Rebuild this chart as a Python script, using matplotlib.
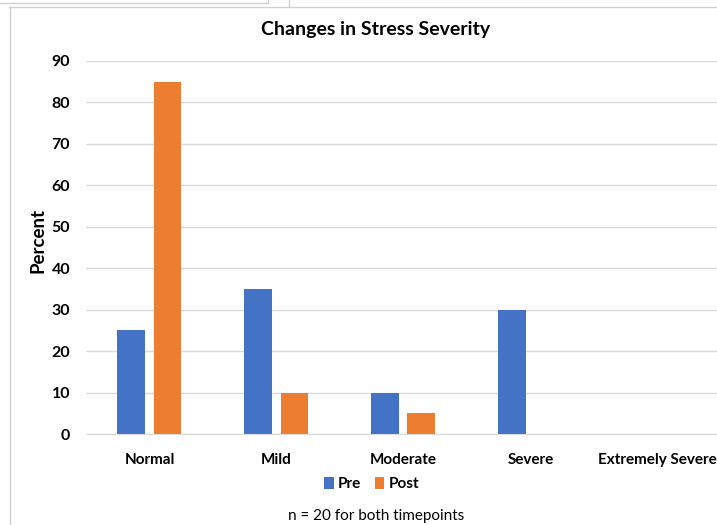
import matplotlib.pyplot as plt
import numpy as np
from matplotlib.lines import Line2D

categories = ["Normal", "Mild", "Moderate", "Severe", "Extremely Severe"]
pre = [25, 35, 10, 30, 0]
post = [85, 10, 5, 0, 0]

W, H = 717, 525
plt.rcParams["font.family"] = ["Lato", "DejaVu Sans"]

fig = plt.figure(figsize=(W / 100, H / 100), dpi=100)
ax = fig.add_axes([86 / W, (H - 434) / H, (717 - 86) / W, (434 - 61) / H])

x = np.arange(len(categories))
bw = 0.22
ax.bar(x - 0.142, pre, bw, color="#4472C4", label="Pre")
ax.bar(x + 0.142, post, bw, color="#ED7D31", label="Post")

ax.set_xlim(-0.5, 4.47)
ax.set_ylim(0, 90)
ax.set_yticks(range(0, 91, 10))
ax.yaxis.grid(True, color="#d9d9d9", linewidth=1)
ax.set_axisbelow(True)
for s in ["top", "right", "left"]:
    ax.spines[s].set_visible(False)
ax.spines["bottom"].set_color("#d9d9d9")
ax.tick_params(axis="y", length=0, labelsize=11.5, pad=11.5)
ax.tick_params(axis="x", length=0, labelsize=11, pad=14)
ax.set_xticks(x)
ax.set_xticklabels(categories, fontweight="bold")
for t in ax.get_yticklabels():
    t.set_fontweight("bold")

fig.text(38 / W, 1 - 240 / H, "Percent", rotation=90, ha="center", va="center",
         fontsize=13.5, fontweight="bold")
fig.text(376 / W, 1 - 30 / H, "Changes in Stress Severity", ha="center", va="center",
         fontsize=14, fontweight="bold")
fig.text(376 / W, 1 - 516 / H, "n = 20 for both timepoints", ha="center", va="center",
         fontsize=11)

leg = fig.legend(loc="center", bbox_to_anchor=(372 / W, 1 - 484 / H), ncol=2, frameon=False,
                 prop={"weight": "bold", "size": 11}, handlelength=0.6, handleheight=0.9,
                 handletextpad=0.3, columnspacing=0.9)

# screenshot frame lines
gray = "#d0d0d0"
def px_line(xs, ys):
    fig.add_artist(Line2D([v / W for v in xs], [1 - v / H for v in ys], color=gray, lw=1))
px_line([0, 268], [3, 3])
px_line([268, 268], [0, 3])
px_line([289, 289], [0, 6])
px_line([9, 717], [7, 7])
px_line([10, 10], [7, 525])

fig.savefig("out.png", dpi=100)
